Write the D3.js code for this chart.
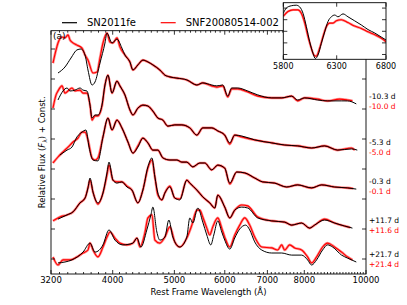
<!DOCTYPE html>
<html>
<head>
<meta charset="utf-8">
<script src="https://cdn.jsdelivr.net/npm/d3@7"></script>
<style>
  body { margin: 0; background: #fff; }
  svg { display: block; font-family: "DejaVu Sans", sans-serif; }
</style>
</head>
<body>
<svg id="chart"></svg>
<script>
// Spektren: [Wellenlänge (Å), relativer Fluss + Konstante]
const fe_m10 = [[3282,6.20],[3366,6.40],[3440,6.70],[3515,6.97],[3567,7.00],[3619,6.80],[3658,6.30],[3712,5.80],[3752,5.90],[3820,6.53],[3890,7.20],[3918,7.53],[3990,7.20],[4062,7.33],[4136,7.03],[4181,6.80],[4257,6.57],[4304,6.30],[4382,6.47],[4462,6.63],[4543,6.57],[4626,6.47],[4744,6.30],[4831,6.13],[4919,6.07],[5045,6.03],[5230,5.97],[5423,5.80],[5541,5.87],[5724,5.80],[5829,5.77],[5956,5.80],[6065,5.43],[6153,5.70],[6287,5.70],[6519,5.60],[6759,5.47],[7110,5.37],[7371,5.37],[7642,5.43],[7809,5.30],[8009,5.37],[8394,5.30],[8703,5.27],[9154,5.27],[9354,5.27],[9655,5.17]];
const snf_m10 = [[3223,6.53],[3259,6.97],[3282,7.20],[3330,7.40],[3366,7.37],[3403,7.47],[3428,7.30],[3452,7.23],[3515,7.13],[3580,7.03],[3619,6.80],[3658,6.63],[3725,6.20],[3779,6.23],[3820,6.70],[3862,7.20],[3918,7.53],[3961,7.23],[4004,7.20],[4062,7.37],[4106,7.07],[4181,6.80],[4257,6.57],[4304,6.30],[4382,6.47],[4462,6.63],[4543,6.57],[4626,6.47],[4744,6.30],[4831,6.13],[4919,6.07],[5045,6.03],[5230,5.97],[5423,5.80],[5541,5.87],[5724,5.77],[5829,5.73],[5956,5.77],[6065,5.40],[6153,5.67],[6287,5.67],[6519,5.57],[6759,5.43],[7110,5.37],[7371,5.37],[7642,5.43],[7809,5.27],[8009,5.37],[8394,5.33],[8703,5.27],[9088,5.33],[9354,5.30],[9521,5.27]];

const fe_m5 = [[3282,5.30],[3342,5.60],[3391,5.70],[3428,5.60],[3490,5.63],[3554,5.70],[3593,5.63],[3645,5.60],[3685,5.13],[3712,4.70],[3752,4.80],[3792,4.80],[3848,5.13],[3890,5.80],[3932,6.13],[3990,5.53],[4062,5.93],[4106,5.77],[4181,5.47],[4257,4.97],[4304,4.80],[4382,5.03],[4462,5.13],[4543,5.10],[4626,4.93],[4710,4.70],[4796,4.63],[4884,4.43],[5008,4.47],[5137,4.47],[5287,4.37],[5423,4.13],[5541,4.37],[5724,4.37],[5850,4.27],[5999,4.13],[6109,3.87],[6220,4.13],[6379,4.10],[6686,3.97],[7110,3.87],[7451,3.80],[7809,3.77],[8214,3.70],[8609,3.77],[9023,3.63],[9488,3.67],[9690,3.63]];
const snf_m5 = [[3223,5.03],[3259,5.47],[3282,5.60],[3330,5.77],[3366,5.53],[3403,5.60],[3452,5.70],[3490,5.60],[3554,5.63],[3593,5.53],[3645,5.53],[3685,5.13],[3712,4.63],[3752,4.77],[3792,4.77],[3848,5.10],[3890,5.80],[3932,6.13],[3990,5.53],[4062,5.93],[4106,5.77],[4181,5.47],[4257,4.97],[4304,4.80],[4382,5.03],[4462,5.13],[4543,5.10],[4626,4.93],[4710,4.70],[4796,4.63],[4884,4.43],[5008,4.47],[5137,4.47],[5287,4.37],[5423,4.13],[5541,4.37],[5724,4.37],[5850,4.27],[5999,4.13],[6109,3.83],[6220,4.13],[6379,4.07],[6686,3.97],[7110,3.87],[7451,3.80],[7809,3.77],[8214,3.70],[8609,3.77],[9023,3.63],[9488,3.70],[9600,3.63]];

const fe_0 = [[3306,3.47],[3391,3.63],[3452,3.73],[3515,4.07],[3580,4.23],[3632,4.30],[3672,3.73],[3725,3.30],[3792,3.27],[3862,4.07],[3932,4.70],[3990,4.30],[4062,4.63],[4136,4.37],[4227,3.90],[4304,3.53],[4382,3.73],[4462,4.03],[4543,3.87],[4626,3.63],[4710,3.63],[4796,3.37],[4919,3.30],[5045,3.30],[5137,3.23],[5230,3.23],[5345,3.07],[5482,3.20],[5581,3.20],[5724,2.97],[5850,3.13],[5999,3.03],[6109,2.53],[6265,2.90],[6449,2.87],[6686,2.70],[6882,2.57],[7187,2.53],[7505,2.40],[7809,2.47],[8214,2.37],[8517,2.47],[8925,2.40],[9354,2.37],[9655,2.33]];
const snf_0 = [[3223,3.20],[3282,3.40],[3342,3.57],[3403,3.73],[3465,3.90],[3528,4.03],[3580,4.23],[3619,4.23],[3658,3.97],[3712,3.37],[3752,3.30],[3792,3.37],[3862,4.07],[3932,4.70],[3990,4.30],[4062,4.63],[4136,4.37],[4227,3.90],[4304,3.53],[4382,3.77],[4462,4.03],[4543,3.87],[4626,3.63],[4710,3.63],[4796,3.37],[4919,3.30],[5045,3.30],[5137,3.23],[5230,3.23],[5345,3.07],[5482,3.20],[5581,3.20],[5724,2.97],[5850,3.13],[5999,3.03],[6109,2.50],[6265,2.90],[6449,2.87],[6686,2.70],[6882,2.57],[7187,2.53],[7505,2.40],[7809,2.47],[8214,2.37],[8517,2.47],[8925,2.40],[9354,2.37],[9550,2.35]];

const fe_p12 = [[3282,1.33],[3391,1.47],[3465,1.57],[3554,1.87],[3619,2.03],[3658,2.37],[3685,2.70],[3725,2.23],[3792,1.87],[3862,2.20],[3918,2.87],[3947,3.23],[4004,2.63],[4062,2.53],[4136,2.57],[4212,2.40],[4288,2.30],[4382,1.87],[4462,2.30],[4543,3.07],[4610,3.37],[4660,2.73],[4710,2.20],[4779,1.97],[4831,2.20],[4919,2.40],[5008,2.03],[5100,1.97],[5230,2.63],[5287,2.53],[5423,2.30],[5541,2.07],[5683,1.87],[5787,1.70],[5850,2.13],[5999,1.73],[6109,1.37],[6220,1.63],[6379,1.73],[6519,1.70],[6759,1.37],[7110,1.27],[7451,1.23],[7642,1.13],[7923,1.20],[8155,1.03],[8303,1.13],[8609,1.30],[8925,1.20],[9253,1.10],[9521,1.03]];
const snf_p12 = [[3223,1.27],[3259,1.33],[3306,1.40],[3391,1.47],[3465,1.57],[3554,1.87],[3619,2.03],[3658,2.37],[3685,2.63],[3725,2.23],[3792,1.83],[3862,2.20],[3918,2.80],[3947,3.13],[4004,2.63],[4062,2.57],[4136,2.57],[4212,2.43],[4288,2.30],[4382,1.87],[4462,2.30],[4543,3.03],[4610,3.30],[4660,2.73],[4710,2.13],[4779,1.97],[4831,2.20],[4919,2.43],[5008,2.03],[5100,2.00],[5230,2.63],[5287,2.53],[5423,2.30],[5541,2.07],[5683,1.87],[5787,1.70],[5850,2.13],[5999,1.73],[6109,1.37],[6220,1.63],[6379,1.80],[6519,1.77],[6759,1.40],[7110,1.27],[7451,1.23],[7642,1.13],[7923,1.20],[8155,1.03],[8303,1.13],[8609,1.33],[8925,1.20],[9253,1.10],[9450,1.05]];

const fe_p22 = [[3282,-0.13],[3366,-0.10],[3452,-0.03],[3593,0.23],[3685,0.53],[3752,0.23],[3862,0.47],[3947,0.97],[4033,0.63],[4151,0.47],[4304,0.53],[4367,0.70],[4430,0.40],[4526,0.97],[4593,1.47],[4626,1.73],[4693,0.90],[4744,0.63],[4831,0.73],[4901,1.30],[4972,0.73],[5100,0.40],[5230,0.73],[5287,1.37],[5345,1.20],[5443,1.70],[5541,1.23],[5622,0.80],[5704,0.47],[5766,0.80],[5850,1.27],[5935,0.90],[5999,0.63],[6109,0.33],[6220,0.70],[6333,1.00],[6472,1.13],[6566,0.97],[6686,0.57],[6857,0.30],[7110,0.20],[7371,0.20],[7642,0.13],[7923,0.13],[8096,-0.03],[8214,-0.20],[8364,-0.03],[8547,0.30],[8703,0.47],[8861,0.40],[9154,0.13],[9354,0.03],[9655,-0.10]];
const snf_p22 = [[3223,0.07],[3282,-0.20],[3342,-0.03],[3428,-0.03],[3515,0.07],[3593,0.20],[3658,0.30],[3685,0.53],[3725,0.30],[3792,0.07],[3862,0.40],[3918,0.73],[3961,0.90],[4033,0.70],[4106,0.53],[4212,0.47],[4304,0.53],[4367,0.70],[4414,0.40],[4494,0.87],[4543,1.37],[4610,1.47],[4660,0.63],[4744,0.53],[4831,0.73],[4919,1.07],[5008,0.57],[5100,0.40],[5230,0.70],[5326,1.13],[5423,1.63],[5482,1.63],[5541,1.40],[5622,1.03],[5683,0.80],[5745,1.07],[5850,1.37],[5935,1.03],[5999,0.73],[6109,0.40],[6220,0.80],[6333,1.13],[6449,1.37],[6566,1.13],[6686,0.73],[6857,0.40],[7110,0.37],[7266,0.30],[7371,0.47],[7451,0.30],[7587,0.47],[7725,0.37],[7923,0.30],[8096,0.07],[8214,-0.13],[8364,0.07],[8547,0.40],[8703,0.53],[8925,0.40],[9154,0.23],[9354,0.07],[9521,-0.03]];

// Inset: Si II Bereich
const inset_fe  = [[5800,0.91],[5827,1.00],[5872,1.04],[5918,1.05],[5949,1.02],[5980,0.91],[6011,0.68],[6042,0.42],[6073,0.22],[6095,0.13],[6120,0.19],[6152,0.39],[6184,0.59],[6216,0.77],[6248,0.85],[6281,0.88],[6313,0.85],[6362,0.90],[6411,0.85],[6478,0.78],[6544,0.71],[6613,0.63],[6683,0.57],[6751,0.50],[6800,0.45]];
const inset_snf = [[5800,0.86],[5842,0.94],[5888,0.97],[5933,0.97],[5964,0.91],[5996,0.74],[6026,0.51],[6057,0.31],[6082,0.19],[6104,0.17],[6136,0.31],[6168,0.51],[6200,0.68],[6232,0.74],[6264,0.74],[6296,0.78],[6345,0.80],[6411,0.75],[6478,0.69],[6544,0.65],[6613,0.59],[6683,0.54],[6751,0.48],[6800,0.42]];

const epochsFe  = ["-10.3 d", "-5.3 d", "-0.3 d", "+11.7 d", "+21.7 d"];
const epochsSnf = ["-10.0 d", "-5.0 d", "-0.1 d", "+11.6 d", "+21.4 d"];
const xTicks = [3200, 4000, 5000, 6000, 7000, 8000, 10000];
const yTicks = [0, 1, 2, 3, 4, 5, 6, 7];
const insetXTicks = [5800, 6300, 6800];
const insetYTicks = [0.2, 0.4, 0.6, 0.8, 1.0];

const spectraFe  = [fe_m10, fe_m5, fe_0, fe_p12, fe_p22];
const spectraSnf = [snf_m10, snf_m5, snf_0, snf_p12, snf_p22];

const width = 407, height = 305;
const margin = { top: 30.7, right: 41, bottom: 31, left: 51 };
const BLACK = "#000", RED = "#ff0000";

const svg = d3.select("#chart")
  .attr("width", width)
  .attr("height", height);

const x = d3.scaleLog()
  .domain([3200, 10000])
  .range([margin.left, width - margin.right]);

const y = d3.scaleLinear()
  .domain([-0.5, 7.61])
  .range([height - margin.bottom, margin.top]);

svg.append("clipPath").attr("id", "clipMain")
  .append("rect")
  .attr("x", margin.left).attr("y", margin.top)
  .attr("width", width - margin.left - margin.right)
  .attr("height", height - margin.top - margin.bottom);

const line = d3.line()
  .x(d => x(d[0]))
  .y(d => y(d[1]))
  .curve(d3.curveMonotoneX);

const plot = svg.append("g").attr("clip-path", "url(#clipMain)");

// rote Spektren (verrauscht -> breiteres Band darunter)
spectraSnf.forEach(s => {
  plot.append("path").attr("d", line(s))
    .attr("fill", "none").attr("stroke", RED)
    .attr("stroke-width", 2.6).attr("stroke-opacity", 0.45);
  plot.append("path").attr("d", line(s))
    .attr("fill", "none").attr("stroke", RED)
    .attr("stroke-width", 1.1);
});
spectraFe.forEach(s => {
  plot.append("path").attr("d", line(s))
    .attr("fill", "none").attr("stroke", BLACK)
    .attr("stroke-width", 1);
});

// Rahmen + Ticks
const x0 = margin.left, x1 = width - margin.right;
const y0 = height - margin.bottom, y1 = margin.top;

const minor = d3.range(3300, 10000, 100).filter(v => !xTicks.includes(v));
const ticks = svg.append("g").attr("stroke", BLACK).attr("stroke-width", 0.8);
minor.forEach(v => {
  ticks.append("line").attr("x1", x(v)).attr("x2", x(v)).attr("y1", y0).attr("y2", y0 - 2);
  ticks.append("line").attr("x1", x(v)).attr("x2", x(v)).attr("y1", y1).attr("y2", y1 + 2);
});
xTicks.forEach(v => {
  ticks.append("line").attr("x1", x(v)).attr("x2", x(v)).attr("y1", y0).attr("y2", y0 - 4);
  ticks.append("line").attr("x1", x(v)).attr("x2", x(v)).attr("y1", y1).attr("y2", y1 + 4);
});
yTicks.forEach(v => {
  ticks.append("line").attr("x1", x0).attr("x2", x0 + 4).attr("y1", y(v)).attr("y2", y(v));
  ticks.append("line").attr("x1", x1).attr("x2", x1 - 4).attr("y1", y(v)).attr("y2", y(v));
});

svg.append("rect")
  .attr("x", x0).attr("y", y1)
  .attr("width", x1 - x0).attr("height", y0 - y1)
  .attr("fill", "none").attr("stroke", BLACK).attr("stroke-width", 0.9);

svg.append("g")
  .selectAll("text")
  .data(xTicks)
  .join("text")
  .attr("x", d => x(d))
  .attr("y", y0 + 9)
  .attr("text-anchor", "middle")
  .attr("font-size", "8.5px")
  .text(d => d);

// Achsenbeschriftungen
svg.append("text")
  .attr("x", (x0 + x1) / 2)
  .attr("y", 295)
  .attr("text-anchor", "middle")
  .attr("font-size", "8.5px")
  .text("Rest Frame Wavelength (Å)");

const yl = svg.append("text")
  .attr("transform", "rotate(-90)")
  .attr("x", -(y0 + y1) / 2)
  .attr("y", 45)
  .attr("text-anchor", "middle")
  .attr("font-size", "8.5px");
yl.append("tspan").text("Relative Flux (");
yl.append("tspan").attr("font-style", "italic").text("F");
yl.append("tspan").attr("font-size", "6px").attr("dy", 2).text("λ");
yl.append("tspan").attr("dy", -2).text(") + Const.");

svg.append("text")
  .attr("x", x0 + 2).attr("y", y1 + 8)
  .attr("font-size", "9px")
  .text("(a)");

// Epochen rechts, am Ende der Spektren
spectraFe.forEach((s, i) => {
  const yy = y(s[s.length - 1][1] + 0.25);
  svg.append("text")
    .attr("x", x1 + 3).attr("y", yy + 2.7)
    .attr("font-size", "7.5px").attr("fill", BLACK)
    .text(epochsFe[i]);
  svg.append("text")
    .attr("x", x1 + 3).attr("y", yy + 12.1)
    .attr("font-size", "7.5px").attr("fill", RED)
    .text(epochsSnf[i]);
});

// Legende
const legend = [["SN2011fe", BLACK, 62], ["SNF20080514-002", RED, 160.7]];
legend.forEach(([name, col, lx]) => {
  svg.append("line")
    .attr("x1", lx).attr("x2", lx + 15)
    .attr("y1", 22.7).attr("y2", 22.7)
    .attr("stroke", col).attr("stroke-width", 1.2);
  svg.append("text")
    .attr("x", lx + 25).attr("y", 26.3)
    .attr("font-size", "10px")
    .text(name);
});

// Inset
const ix = d3.scaleLog().domain([5800, 6800]).range([283.3, 386]);
const iy = d3.scaleLinear().domain([0.117, 1.093]).range([59.3, 2.7]);

const inset = svg.append("g");
inset.append("rect")
  .attr("x", 283.3).attr("y", 2.7)
  .attr("width", 386 - 283.3).attr("height", 59.3 - 2.7)
  .attr("fill", "#fff");

svg.append("clipPath").attr("id", "clipInset")
  .append("rect")
  .attr("x", 283.3).attr("y", 2.7)
  .attr("width", 386 - 283.3).attr("height", 59.3 - 2.7);

const iline = d3.line()
  .x(d => ix(d[0]))
  .y(d => iy(d[1]))
  .curve(d3.curveMonotoneX);

const ig = inset.append("g").attr("clip-path", "url(#clipInset)");
ig.append("path").attr("d", iline(inset_snf))
  .attr("fill", "none").attr("stroke", RED)
  .attr("stroke-width", 2.4).attr("stroke-opacity", 0.45);
ig.append("path").attr("d", iline(inset_snf))
  .attr("fill", "none").attr("stroke", RED).attr("stroke-width", 1.1);
ig.append("path").attr("d", iline(inset_fe))
  .attr("fill", "none").attr("stroke", BLACK).attr("stroke-width", 1);

const iticks = inset.append("g").attr("stroke", BLACK).attr("stroke-width", 0.8);
insetXTicks.forEach(v => {
  iticks.append("line").attr("x1", ix(v)).attr("x2", ix(v)).attr("y1", 59.3).attr("y2", 55.3);
  iticks.append("line").attr("x1", ix(v)).attr("x2", ix(v)).attr("y1", 2.7).attr("y2", 6.7);
});
insetYTicks.forEach(v => {
  iticks.append("line").attr("x1", 283.3).attr("x2", 287.3).attr("y1", iy(v)).attr("y2", iy(v));
  iticks.append("line").attr("x1", 386).attr("x2", 382).attr("y1", iy(v)).attr("y2", iy(v));
});
inset.append("rect")
  .attr("x", 283.3).attr("y", 2.7)
  .attr("width", 386 - 283.3).attr("height", 59.3 - 2.7)
  .attr("fill", "none").attr("stroke", BLACK).attr("stroke-width", 0.9);

inset.selectAll("text.itl")
  .data(insetXTicks)
  .join("text")
  .attr("class", "itl")
  .attr("x", d => ix(d))
  .attr("y", 68.5)
  .attr("text-anchor", "middle")
  .attr("font-size", "8px")
  .text(d => d);
</script>
</body>
</html>
